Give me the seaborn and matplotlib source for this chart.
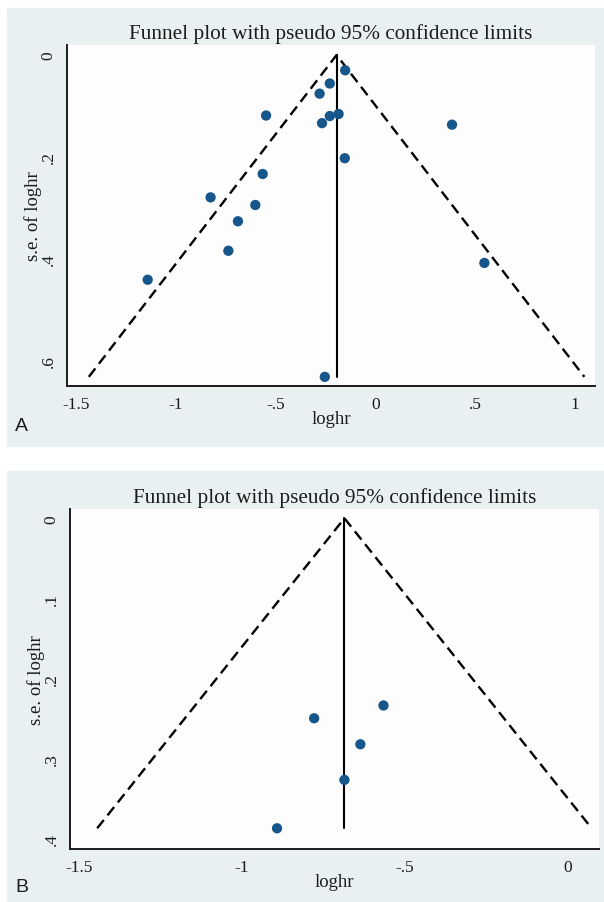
import matplotlib
matplotlib.use("Agg")
import matplotlib.pyplot as plt
from matplotlib.patches import Rectangle
import seaborn as sns
import pandas as pd
import numpy as np

# panel A: 17 studies
loghr_a = [-0.152, -0.229, -0.280, -0.548, -0.229, -0.185, -0.268, 0.383, -0.154,
           -0.565, -0.826, -0.602, -0.689, -0.737, -1.141, 0.545, -0.254]
se_a = [0.030, 0.056, 0.076, 0.119, 0.120, 0.116, 0.134, 0.137, 0.203,
        0.234, 0.280, 0.295, 0.327, 0.385, 0.442, 0.409, 0.633]
pooled_a = -0.195

# panel B: 5 studies
loghr_b = [-0.778, -0.565, -0.636, -0.685, -0.892]
se_b = [0.250, 0.234, 0.2825, 0.327, 0.3875]
pooled_b = -0.685

title = "Funnel plot with pseudo 95% confidence limits"
xticks_a = [-1.5, -1, -0.5, 0, 0.5, 1]
xlabels_a = ["-1.5", "-1", "-.5", "0", ".5", "1"]
yticks_a = [0, 0.2, 0.4, 0.6]
ylabels_a = ["0", ".2", ".4", ".6"]
xticks_b = [-1.5, -1, -0.5, 0]
xlabels_b = ["-1.5", "-1", "-.5", "0"]
yticks_b = [0, 0.1, 0.2, 0.3, 0.4]
ylabels_b = ["0", ".1", ".2", ".3", ".4"]

sns.set_style("white")
plt.rcParams['font.family'] = ['Liberation Serif', 'DejaVu Serif']
plt.rcParams['axes.unicode_minus'] = False

BG = "#e8f0f2"
INK = "#1c1c1c"
DOT = "#17568a"

fig = plt.figure(figsize=(6.04, 9.03), dpi=100)
fig.patch.set_facecolor("white")
W, H = 604, 903

def px(l, t, r, b):
    return [l / W, 1 - b / H, (r - l) / W, (b - t) / H]

# panel backgrounds (behind the axes)
fig.patches.append(Rectangle((7 / W, 1 - 447 / H), 597 / W, 438 / H,
                             transform=fig.transFigure, color=BG, zorder=-5))
fig.patches.append(Rectangle((7 / W, 0), 597 / W, 1 - 471.5 / H,
                             transform=fig.transFigure, color=BG, zorder=-5))


def funnel(ax, x, se, pooled, xlim, ylim, xt, xl, yt, yl):
    df = pd.DataFrame({"loghr": x, "se": se})
    smax = max(se)
    ax.plot([pooled, pooled], [0, smax], color="black", lw=1.5, zorder=2)
    ax.plot([pooled - 1.96 * smax, pooled, pooled + 1.96 * smax], [smax, 0, smax],
            color="black", lw=1.7, ls=(0, (4.5, 2.5)), zorder=2)
    sns.scatterplot(data=df, x="loghr", y="se", ax=ax, color=DOT, s=55,
                    edgecolor="none", zorder=3, legend=False)
    ax.set_xlim(*xlim)
    ax.set_ylim(*ylim)
    ax.set_facecolor("#fdfdfe")
    ax.set_xticks(xt)
    ax.set_xticklabels(xl, fontsize=12.5, color=INK)
    ax.set_yticks(yt)
    ax.set_yticklabels(yl, fontsize=12.5, color=INK, rotation=90, va="center")
    ax.tick_params(axis="both", direction="out", length=5.5, width=1.1, color=INK)
    ax.tick_params(axis="x", pad=1.5)
    ax.tick_params(axis="y", pad=2)
    for s in ["top", "right"]:
        ax.spines[s].set_visible(False)
    for s in ["left", "bottom"]:
        ax.spines[s].set_color(INK)
        ax.spines[s].set_linewidth(1.4)
    ax.set_title(title, fontsize=15.3, color=INK, pad=5)
    ax.set_xlabel("loghr", fontsize=13.5, color=INK, labelpad=-1)
    ax.set_ylabel("s.e. of loghr", fontsize=13.5, color=INK, labelpad=-1)


ax_a = fig.add_axes(px(67, 46, 595, 387))
funnel(ax_a, loghr_a, se_a, pooled_a, (-1.545, 1.099), (0.651, -0.0197),
       xticks_a, xlabels_a, yticks_a, ylabels_a)

ax_b = fig.add_axes(px(70, 510, 599, 850))
funnel(ax_b, loghr_b, se_b, pooled_b, (-1.528, 0.097), (0.4134, -0.0116),
       xticks_b, xlabels_b, yticks_b, ylabels_b)

fig.text(15 / W, 1 - 427 / H, "A", fontsize=14, family="Liberation Sans",
         color=INK, va="center", ha="left")
fig.text(15 / W, 1 - 888 / H, "B", fontsize=14, family="Liberation Sans",
         color=INK, va="center", ha="left")

fig.savefig("out.png", dpi=100, facecolor=fig.get_facecolor())
